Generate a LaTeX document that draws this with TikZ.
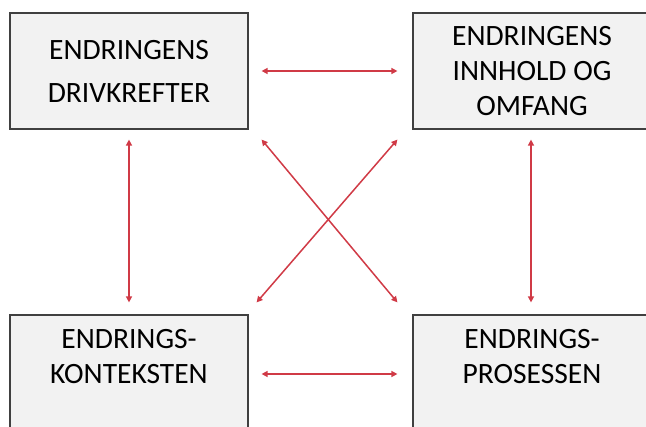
\documentclass[tikz,border=0pt]{standalone}
\usepackage{fontspec}
\setmainfont{Carlito}
\usetikzlibrary{arrows.meta,calc}
\definecolor{boxfill}{RGB}{242,242,242}
\definecolor{boxline}{RGB}{64,64,64}
\definecolor{linkred}{RGB}{208,58,70}
\tikzset{
  box/.style={draw=boxline, line width=1.2pt, fill=boxfill,
    minimum width=238pt, minimum height=116pt, inner sep=0pt,
    align=center, font=\fontsize{29.5}{35}\selectfont},
  caption/.style={inner sep=0pt, align=center, font=\fontsize{29.5}{35}\selectfont},
  link/.style={draw=linkred, line width=1.5pt,
    {Triangle[length=6pt,width=6pt]}-{Triangle[length=6pt,width=6pt]}}
}
\begin{document}
\begin{tikzpicture}[x=1pt,y=-1pt]
  \useasboundingbox (0,0) rectangle (646,427);

  % the four boxes
  \node[box, font=\fontsize{29.5}{43}\selectfont] (tl) at (129,71) {ENDRINGENS\\DRIVKREFTER};
  \node[box] (tr) at (532,71) {ENDRINGENS\\INNHOLD OG\\OMFANG};
  \node[box] (bl) at (129,373) {};
  \node[box] (br) at (532,373) {};
  \node[caption] (blt) at (129,356.5) {ENDRINGS-\\KONTEKSTEN};
  \node[caption] (brt) at (532,356.5) {ENDRINGS-\\PROSESSEN};

  % connectors between the boxes
  \draw[link] ([xshift=13pt]tl.east) -- ([xshift=-15pt]tr.west);
  \draw[link] ([xshift=13pt]bl.east |- 0,374) -- ([xshift=-15pt]br.west |- 0,374);
  \draw[link] ($(tl.south)+(0,10)$) -- ($(bl.north)+(0,-12)$);
  \draw[link] ($(tr.south)+(-1,10)$) -- ($(br.north)+(-1,-12)$);
  \draw[link] ($(tl.south east)+(13,10)$) -- ($(br.north west)+(-15,-12)$);
  \draw[link] ($(tr.south west)+(-15,10)$) -- ($(bl.north east)+(8,-12)$);
\end{tikzpicture}
\end{document}
